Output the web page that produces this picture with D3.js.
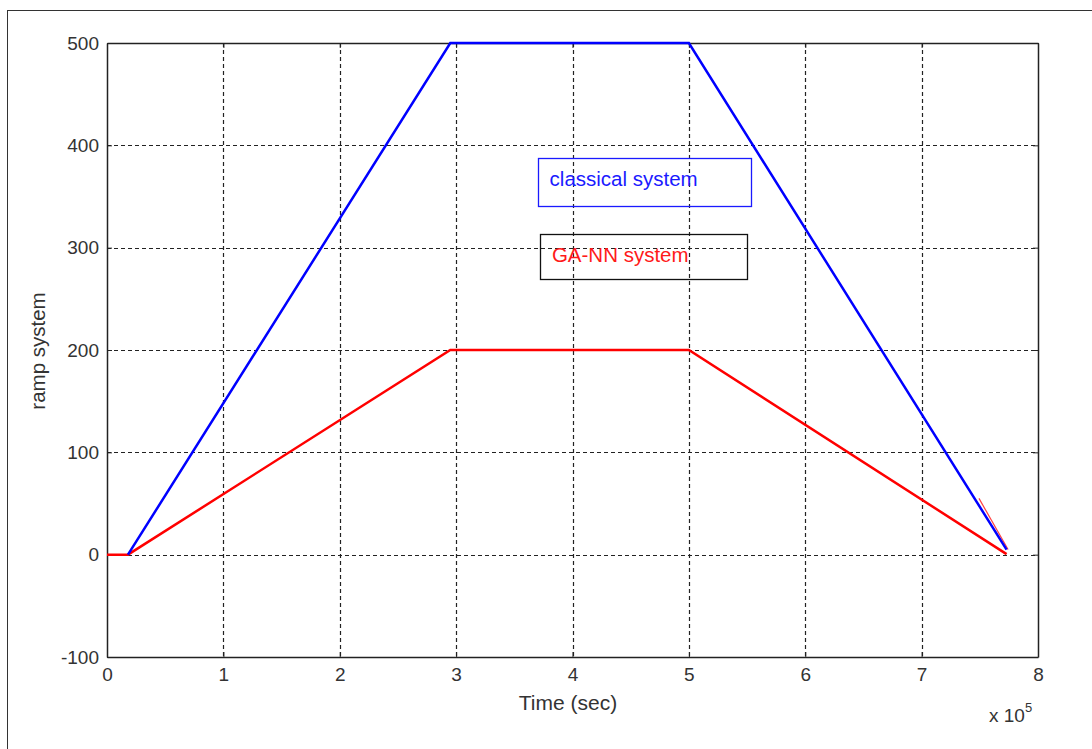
<!DOCTYPE html>
<html>
<head>
<meta charset="utf-8">
<script src="https://cdnjs.cloudflare.com/ajax/libs/d3/7.8.5/d3.min.js"></script>
<style>
  body { margin: 0; background: #fff; }
  text { font-family: "Liberation Sans", Arial, sans-serif; fill: #222; }
</style>
</head>
<body>
<script>
// chart values (time in units of 1e5 sec)
var xTicks = [0, 1, 2, 3, 4, 5, 6, 7, 8];
var yTicks = [-100, 0, 100, 200, 300, 400, 500];
var classicalT = [0.18, 2.95, 5.0, 7.73];
var classicalV = [0, 500, 500, 5];
var gannT = [0, 0.18, 2.95, 5.0, 7.73];
var gannV = [0, 0, 200, 200, 0.5];
var gannTraceT = [7.48, 7.73];   // faint red trace under the blue tail
var gannTraceV = [55, 5];
var labelNames = ["classical system", "GA-NN system"];
var labelColors = ["#1a1aff", "#ff1a1a"];
var labelBorders = ["#1a1aff", "#111"];
var labelX = [3.70, 3.72];
var labelY = [388, 313];

var w = 1092, h = 749;
var margin = {left: 107, top: 43, right: 1092 - 1038, bottom: 749 - 657};

window.onload = function(){
    var svg = d3.select("body").append("svg")
        .attr("width", w)
        .attr("height", h);

    //outer figure frame (runs off the page on the right and bottom)
    svg.append("rect")
        .attr("x", 7.5).attr("y", 10.5)
        .attr("width", w).attr("height", h)
        .style("fill", "none").style("stroke", "#333");

    var x = d3.scaleLinear().domain([0, 8]).range([margin.left, w - margin.right]);
    var y = d3.scaleLinear().domain([-100, 500]).range([h - margin.bottom, margin.top]);

    //grid lines
    var grid = svg.append("g").attr("class", "grid")
        .style("stroke", "#222").style("stroke-dasharray", "4,3").style("stroke-width", 1.2);
    grid.selectAll(".vg").data(xTicks.slice(1, -1)).enter().append("line")
        .attr("x1", function(d){ return Math.round(x(d)) + 0.5; })
        .attr("x2", function(d){ return Math.round(x(d)) + 0.5; })
        .attr("y1", y(500)).attr("y2", y(-100));
    grid.selectAll(".hg").data(yTicks.slice(1, -1)).enter().append("line")
        .attr("y1", function(d){ return Math.round(y(d)) + 0.5; })
        .attr("y2", function(d){ return Math.round(y(d)) + 0.5; })
        .attr("x1", x(0)).attr("x2", x(8));

    //axes with inward ticks, plain hyphen for negatives
    var fmt = function(d){ return String(d); };
    var bottomAxis = d3.axisBottom(x).tickValues(xTicks).tickSizeInner(-5).tickSizeOuter(0).tickPadding(11).tickFormat(fmt);
    var topAxis = d3.axisTop(x).tickValues(xTicks).tickSizeInner(-5).tickSizeOuter(0).tickFormat("");
    var leftAxis = d3.axisLeft(y).tickValues(yTicks).tickSizeInner(-5).tickSizeOuter(0).tickPadding(8).tickFormat(fmt);
    var rightAxis = d3.axisRight(y).tickValues(yTicks).tickSizeInner(-5).tickSizeOuter(0).tickFormat("");

    var axes = [
        svg.append("g").attr("transform", "translate(0," + y(-100) + ")").call(bottomAxis),
        svg.append("g").attr("transform", "translate(0," + y(500) + ")").call(topAxis),
        svg.append("g").attr("transform", "translate(" + x(0) + ",0)").call(leftAxis),
        svg.append("g").attr("transform", "translate(" + x(8) + ",0)").call(rightAxis)
    ];
    axes.forEach(function(a){
        a.select(".domain").style("stroke", "#222").style("stroke-width", 1.5);
        a.selectAll(".tick line").style("stroke", "#222");
        a.selectAll("text").style("font-size", "19px").style("fill", "#333")
            .style("font-family", "'Liberation Sans', Arial, sans-serif");
    });

    //data lines
    var line = d3.line()
        .x(function(d){ return x(d[0]); })
        .y(function(d){ return y(d[1]); });

    var gann = d3.zip(gannT, gannV);
    var classical = d3.zip(classicalT, classicalV);
    var trace = d3.zip(gannTraceT, gannTraceV);

    svg.append("path").datum(trace).attr("d", line)
        .style("fill", "none").style("stroke", "#ff4040").style("stroke-width", 1.2)
        .attr("transform", "translate(1.5,0)");
    svg.append("path").datum(gann).attr("d", line)
        .style("fill", "none").style("stroke", "#ff0000").style("stroke-width", 2.5);
    svg.append("path").datum(classical).attr("d", line)
        .style("fill", "none").style("stroke", "#0000ff").style("stroke-width", 2.5);

    //annotation boxes
    var boxW = [213, 207], boxH = [48, 45];
    labelNames.forEach(function(name, i){
        var bx = x(labelX[i]), by = y(labelY[i]);
        svg.append("rect")
            .attr("x", Math.round(bx) + 0.5).attr("y", Math.round(by) + 0.5)
            .attr("width", boxW[i]).attr("height", boxH[i])
            .style("fill", "none").style("stroke", labelBorders[i]).style("stroke-width", 1.3);
        svg.append("text")
            .attr("x", bx + 12).attr("y", by + 28)
            .style("font-size", "20.5px").style("fill", labelColors[i])
            .text(name);
    });

    //axis labels
    svg.append("text")
        .attr("x", 568).attr("y", 710)
        .attr("text-anchor", "middle")
        .style("font-size", "21px").style("fill", "#333")
        .text("Time (sec)");
    svg.append("text")
        .attr("transform", "translate(45,351) rotate(-90)")
        .attr("text-anchor", "middle")
        .style("font-size", "20.5px").style("fill", "#333")
        .text("ramp system");

    var expo = svg.append("text")
        .attr("x", 989).attr("y", 722)
        .style("font-size", "19px").style("fill", "#333");
    expo.append("tspan").text("x 10");
    expo.append("tspan").attr("dy", -10).style("font-size", "13px").text("5");
};
</script>
</body>
</html>
